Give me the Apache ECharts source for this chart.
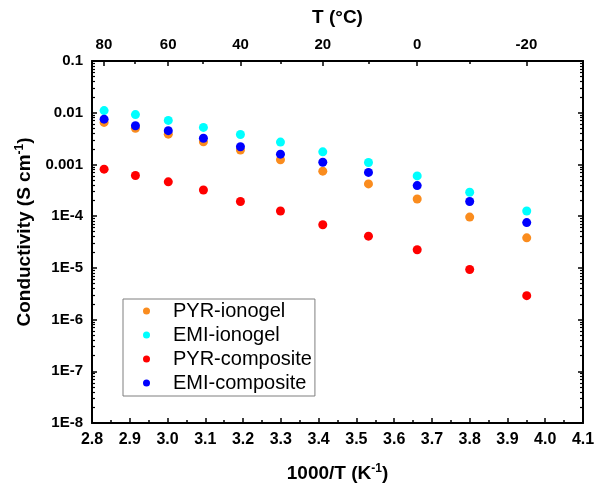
<!DOCTYPE html>
<html>
<head>
<meta charset="utf-8">
<script src="https://cdn.jsdelivr.net/npm/echarts@6/dist/echarts.min.js"></script>
<style>
  html, body { margin: 0; padding: 0; background: #ffffff; }
  #chart { width: 603px; height: 484px; }
</style>
</head>
<body>
<div id="chart"></div>
<script>
// Inverse temperature, 1000/T (K^-1), for each measurement point (80 °C down to -20 °C)
const invT = [2.832, 2.915, 3.002, 3.095, 3.193, 3.299, 3.411, 3.532, 3.661, 3.800, 3.951];

// Ionic conductivity, S cm^-1
const pyrIonogel   = [0.0065, 0.0050, 0.00385, 0.00273, 0.0019, 0.00123, 0.00074, 0.00042, 0.000214, 0.000096, 0.000038];
const emiIonogel   = [0.011, 0.0092, 0.0071, 0.0052, 0.0038, 0.0027, 0.00175, 0.00109, 0.00060, 0.00029, 0.000126];
const pyrComposite = [0.00081, 0.00061, 0.00046, 0.00032, 0.000192, 0.000126, 0.000068, 0.000041, 0.0000224, 0.0000093, 0.0000029];
const emiComposite = [0.0075, 0.0056, 0.0045, 0.0032, 0.0022, 0.00158, 0.0011, 0.00070, 0.00039, 0.000192, 0.000075];

const seriesNames  = ['PYR-ionogel', 'EMI-ionogel', 'PYR-composite', 'EMI-composite'];
const seriesColors = ['#fa8c1e', '#00ffff', '#ff0000', '#0000ff'];
const seriesValues = [pyrIonogel, emiIonogel, pyrComposite, emiComposite];

// Temperature scale (°C) shown along the top edge
const tempLabels = [80, 60, 40, 20, 0, -20];
const tempMinor  = [70, 50, 30, 10, -10];

// Conductivity axis range, decades
const logMin = -8;
const logMax = -1;

const FONT = "'Liberation Sans', Arial, sans-serif";
const toInvT = t => 1000 / (t + 273.15);

// Minor ticks of the log axis: 2..9 within every decade
const logMinorTicks = [];
for (let e = logMin; e < logMax; e++) {
  for (let k = 2; k <= 9; k++) logMinorTicks.push(e + Math.log10(k));
}

function fmtLog(v) {
  const e = Math.round(Math.log10(v));
  return e >= -3 ? Math.pow(10, e).toFixed(-e) : '1E' + e;
}

const lineStyle = { color: '#000', width: 2 };
const tickLabel = { color: '#000', fontFamily: FONT, fontWeight: 'bold', fontSize: 15 };
const titleRich = {
  a: { fontFamily: FONT, fontWeight: 'bold', fontSize: 19, color: '#000' },
  s: { fontFamily: FONT, fontWeight: 'bold', fontSize: 12, color: '#000', padding: [0, 0, 10, 0] }
};

const chart = echarts.init(document.getElementById('chart'), null, { renderer: 'canvas' });

chart.setOption({
  animation: false,
  backgroundColor: '#ffffff',
  grid: { left: 92, right: 20, top: 61, bottom: 61, containLabel: false, outerBoundsMode: 'none' },
  legend: {
    orient: 'vertical',
    left: 123,
    top: 299,
    itemWidth: 43,
    itemHeight: 7,
    itemGap: 4,
    padding: [2, 3, 3, 20],
    borderColor: '#7f7f7f',
    borderWidth: 1,
    borderRadius: 0,
    backgroundColor: '#ffffff',
    textStyle: { fontFamily: FONT, fontSize: 20, color: '#000', lineHeight: 20 },
    data: seriesNames
  },
  xAxis: [
    {
      type: 'value', position: 'bottom', min: 2.8, max: 4.1, interval: 0.1,
      name: '{a|1000/T (K}{s|-1}{a|)}',
      nameLocation: 'middle', nameGap: 40,
      nameTextStyle: { rich: titleRich },
      axisLine: { show: true, lineStyle },
      axisTick: { show: true, inside: true, length: 5, lineStyle: { color: '#000', width: 1.5 } },
      minorTick: { show: true, splitNumber: 2, length: 3, lineStyle: { color: '#000', width: 1.5 } },
      axisLabel: Object.assign({ margin: 9, formatter: v => v.toFixed(1) }, tickLabel, { fontSize: 16 }),
      splitLine: { show: false }
    },
    {
      type: 'value', position: 'top', min: 2.8, max: 4.1,
      name: 'T (°C)',
      nameLocation: 'middle', nameGap: 34,
      nameTextStyle: { fontFamily: FONT, fontWeight: 'bold', fontSize: 19, color: '#000' },
      axisLine: { show: true, lineStyle },
      axisTick: { show: true, inside: true, length: 5, customValues: tempLabels.map(toInvT), lineStyle: { color: '#000', width: 1.5 } },
      axisLabel: Object.assign({
        margin: 9,
        customValues: tempLabels.map(toInvT),
        formatter: v => String(Math.round(1000 / v - 273.15))
      }, tickLabel),
      splitLine: { show: false }
    },
    {
      type: 'value', position: 'top', min: 2.8, max: 4.1,
      axisLine: { show: false },
      axisTick: { show: true, inside: true, length: 3, customValues: tempMinor.map(toInvT), lineStyle: { color: '#000', width: 1.5 } },
      axisLabel: { show: false },
      splitLine: { show: false }
    }
  ],
  yAxis: [
    {
      type: 'log', logBase: 10, position: 'left',
      min: Math.pow(10, logMin), max: Math.pow(10, logMax),
      name: '{a|Conductivity (S cm}{s|-1}{a|)}',
      nameLocation: 'middle', nameRotate: 90, nameGap: 54,
      nameTextStyle: { padding: [0, 0, 0, 20], rich: titleRich },
      axisLine: { show: true, lineStyle },
      axisTick: { show: true, inside: true, length: 5, lineStyle: { color: '#000', width: 1.5 } },
      axisLabel: Object.assign({ margin: 9, formatter: fmtLog }, tickLabel),
      splitLine: { show: false }
    },
    {
      type: 'value', position: 'left', min: logMin, max: logMax,
      axisLine: { show: false },
      axisTick: { show: true, inside: true, length: 3, customValues: logMinorTicks, lineStyle: { color: '#000', width: 1.2 } },
      axisLabel: { show: false },
      splitLine: { show: false }
    },
    {
      type: 'log', logBase: 10, position: 'right',
      min: Math.pow(10, logMin), max: Math.pow(10, logMax),
      axisLine: { show: true, lineStyle },
      axisTick: { show: true, inside: true, length: 5, lineStyle: { color: '#000', width: 1.5 } },
      axisLabel: { show: false },
      splitLine: { show: false }
    },
    {
      type: 'value', position: 'right', min: logMin, max: logMax,
      axisLine: { show: false },
      axisTick: { show: true, inside: true, length: 3, customValues: logMinorTicks, lineStyle: { color: '#000', width: 1.2 } },
      axisLabel: { show: false },
      splitLine: { show: false }
    }
  ],
  series: seriesNames.map((name, i) => ({
    name,
    type: 'scatter',
    xAxisIndex: 0,
    yAxisIndex: 0,
    symbol: 'circle',
    symbolSize: 9,
    itemStyle: { color: seriesColors[i], opacity: 1 },
    data: invT.map((x, j) => [x, seriesValues[i][j]])
  }))
});
</script>
</body>
</html>
